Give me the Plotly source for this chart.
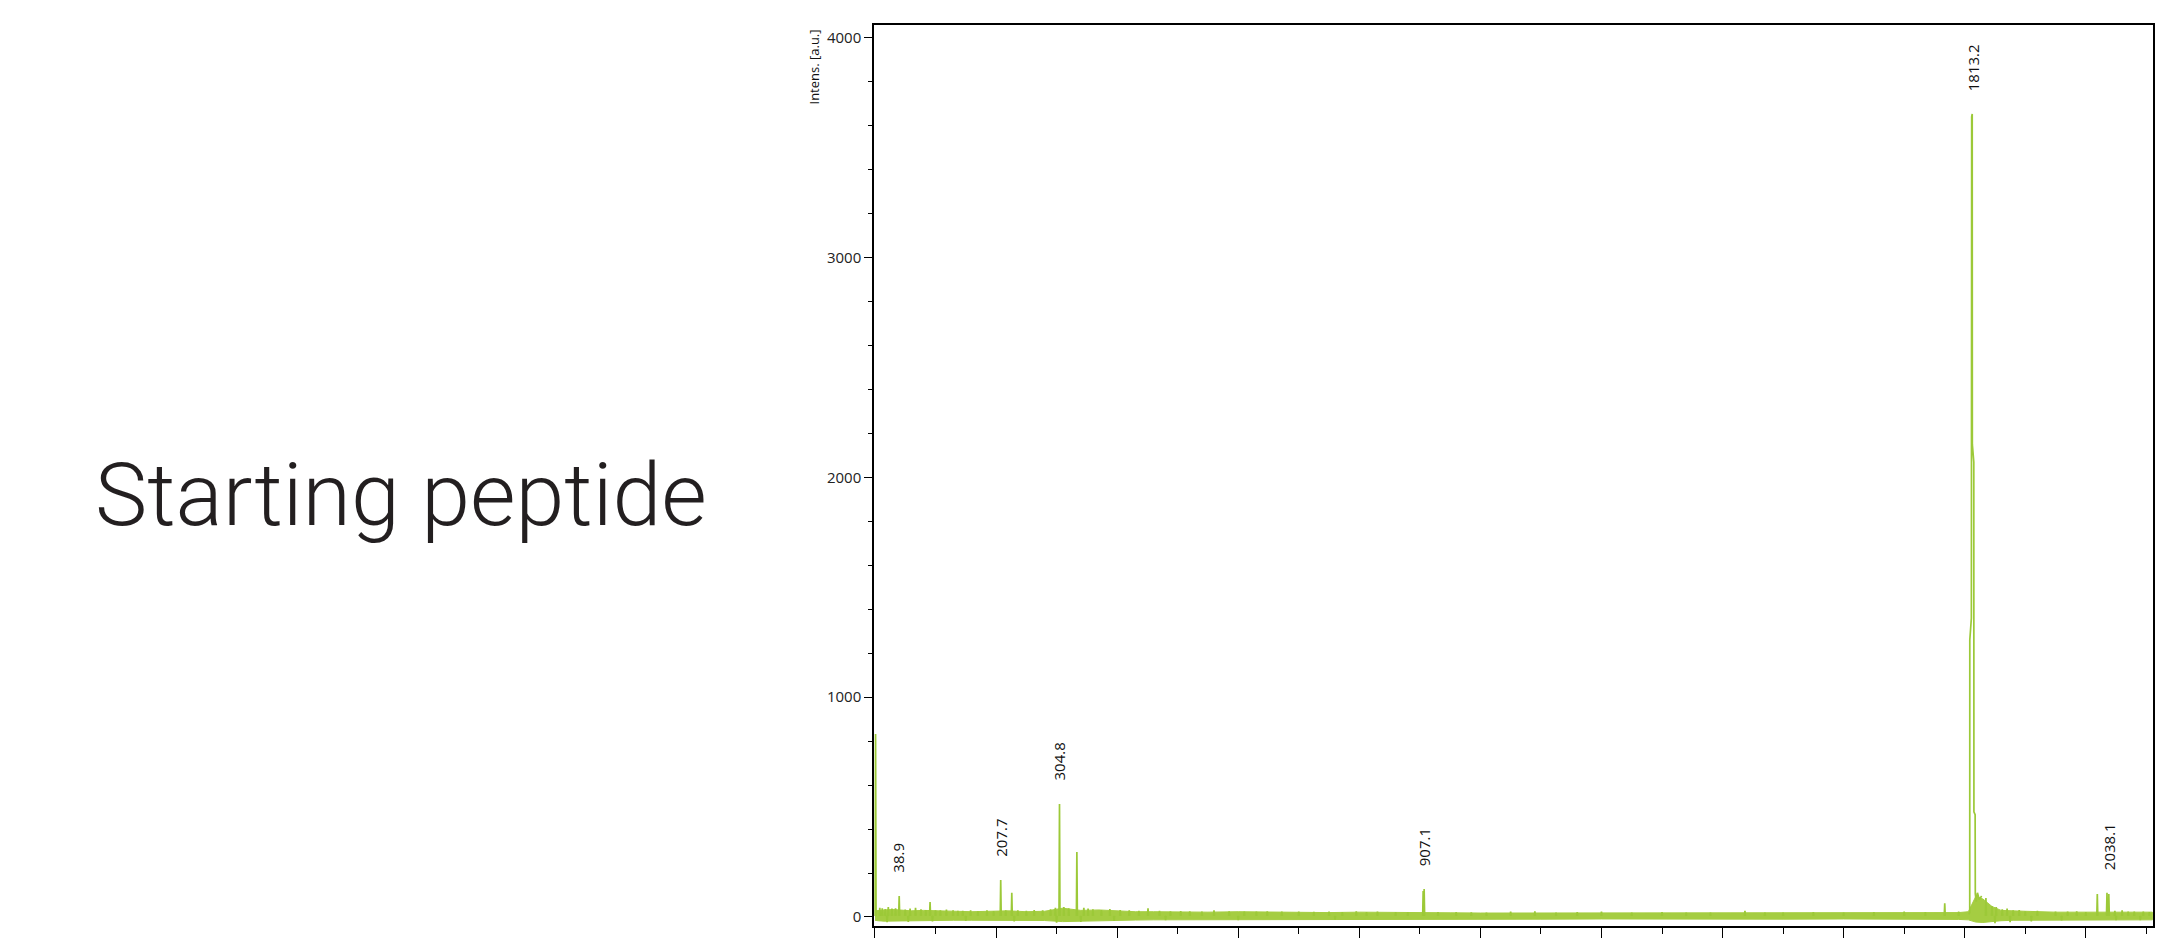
import plotly.graph_objects as go

# ---------------- data ----------------
# labelled peaks (label text, position m/z, apex intensity)
label_text = ["38.9", "207.7", "304.8", "907.1", "1813.2", "2038.1"]
label_mz = [38.9, 207.7, 304.8, 907.1, 1813.2, 2038.1]
label_int = [95, 168, 514, 127, 3653, 110]

# individual spikes of the spectrum (m/z, intensity)
spike_mz = [1, 8, 12, 17, 22, 28, 34, 40, 50, 58, 67, 76, 84, 91, 100, 108,
            118, 129, 137, 145, 158, 170, 185, 196, 207.7, 216, 226, 236, 250,
            263, 277, 290, 298, 304.8, 312, 320, 333.5, 345, 352, 360, 374,
            388, 405, 420, 436, 451, 470, 488, 505, 520, 540, 560, 585, 610,
            630, 648, 672, 700, 725, 750, 772, 795, 812, 830, 860, 880, 905.5,
            907.1, 930, 960, 985, 1010, 1050, 1090, 1125, 1160, 1200, 1250,
            1300, 1340, 1380, 1437, 1470, 1500, 1550, 1600, 1650, 1700, 1735,
            1767, 1790, 1835, 1845, 1852, 1862, 1870, 1880, 1890, 1900, 1920,
            1950, 1970, 1985, 2000, 2019, 2035, 2038, 2048, 2060, 2070, 2080,
            2095, 2105]
spike_int = [833, 42, 40, 36, 45, 38, 40, 95, 34, 38, 42, 35, 32, 68, 30, 30,
             34, 30, 28, 28, 30, 26, 30, 27, 168, 30, 110, 30, 28,
             32, 30, 35, 42, 514, 45, 40, 296, 42, 38, 35, 32,
             36, 32, 30, 28, 40, 28, 26, 27, 26, 25, 30, 26, 25,
             24, 26, 24, 24, 23, 25, 22, 26, 22, 24, 22, 21, 118,
             127, 22, 22, 21, 20, 24, 26, 20, 22, 24, 20,
             22, 20, 20, 28, 20, 20, 22, 20, 22, 24, 22,
             62, 24, 86, 50, 45, 35, 38, 30, 32, 26, 28,
             24, 25, 26, 22, 105, 110, 104, 28, 30, 24, 25,
             24, 22]

# downward noise excursions (m/z, intensity)
dip_mz = [20, 55, 95, 150, 230, 300, 340, 395, 480, 600, 760, 1850, 1875,
          1910, 1960, 2050, 2090]
dip_int = [-24, -22, -20, -18, -20, -26, -22, -18, -15, -14, -12, -28, -24,
           -20, -16, -15, -14]

# profile of the dominant peak (m/z, intensity)
main_mz = [1806.8, 1808.3, 1808.4, 1811.0, 1811.5, 1812.4, 1812.6, 1815.0,
           1815.2, 1817.2, 1817.5, 1819.0, 1821.0, 1824.0, 1828.0]
main_int = [12, 20, 1260, 1360, 3640, 3653, 2150, 2070,
            478, 465, 105, 70, 110, 80, 95]

# noise band envelope (m/z, upper, lower)
env_mz = [0, 5, 15, 30, 45, 60, 80, 100, 130, 160,
          190, 220, 250, 280, 310, 340, 370, 400, 430, 460,
          500, 550, 600, 650, 700, 750, 800, 850, 900, 950,
          1000, 1100, 1200, 1300, 1400, 1500, 1600, 1700, 1750, 1790,
          1806, 1818, 1830, 1845, 1860, 1880, 1900, 1950, 2000, 2050,
          2080, 2110]
env_hi = [28, 30, 32, 34, 32, 28, 30, 29, 26, 24,
          26, 28, 24, 26, 40, 30, 32, 28, 24, 24,
          22, 22, 24, 22, 20, 20, 22, 20, 20, 19,
          18, 18, 17, 18, 17, 18, 17, 17, 18, 20,
          24, 92, 82, 48, 30, 27, 26, 22, 22, 24,
          22, 22]
env_lo = [-15, -17, -19, -21, -19, -18, -17, -16, -15, -15,
          -16, -17, -15, -16, -21, -18, -17, -16, -14, -13,
          -13, -12, -13, -12, -11, -11, -12, -11, -11, -10,
          -10, -10, -9, -10, -9, -10, -9, -9, -10, -11,
          -13, -23, -25, -21, -17, -15, -14, -13, -13, -14,
          -13, -13]

# ---------------- styling ----------------
GREEN = "#9cc938"
BAND = "#a5cd42"
BASE = 5
HW = 0.8

fig = go.Figure()

# noise band
fig.add_trace(go.Scatter(
    x=env_mz + env_mz[::-1], y=env_hi + env_lo[::-1],
    fill="toself", fillcolor=BAND, mode="lines",
    line=dict(color=BAND, width=1.0), hoverinfo="skip"))

# spikes (upward and downward)
sx, sy = [], []
for m, v in zip(spike_mz + dip_mz, spike_int + dip_int):
    sx += [m - HW, m, m + HW, None]
    sy += [BASE, v, BASE, None]
fig.add_trace(go.Scatter(x=sx, y=sy, mode="lines",
                         line=dict(color=GREEN, width=1.7)))

# main peak
fig.add_trace(go.Scatter(x=main_mz, y=main_int, mode="lines",
                         line=dict(color=GREEN, width=1.7)))

# peak labels
for t, m, v in zip(label_text, label_mz, label_int):
    fig.add_annotation(x=m, y=v, text=t, showarrow=False, textangle=-90,
                       xanchor="center", yanchor="bottom", yshift=21,
                       font=dict(family="Open Sans", size=15, color="#111"))

# y-axis title
fig.add_annotation(xref="paper", yref="paper", x=-0.0469, y=0.9967,
                   text="Intens. [a.u.]", showarrow=False, textangle=-90,
                   xanchor="center", yanchor="top",
                   font=dict(family="Open Sans", size=13, color="#111"))

# big title text on the left
fig.add_annotation(xref="paper", yref="paper", x=-0.6106, y=0.479,
                   text="Starting peptide", showarrow=False,
                   xanchor="left", yanchor="middle",
                   font=dict(family="Roboto", size=88, color="#231f20",
                             weight=300))

axis_common = dict(showline=True, linecolor="black", linewidth=1.5,
                   mirror=True, ticks="outside", tickcolor="black",
                   tickwidth=1.3, showgrid=False, zeroline=False,
                   automargin=False,
                   tickfont=dict(family="Open Sans", size=15, color="#222"))

fig.update_layout(
    width=2164, height=940, autosize=False,
    margin=dict(l=874, r=11, t=25, b=14),
    paper_bgcolor="white", plot_bgcolor="white",
    showlegend=False, template="none",
    font=dict(family="Open Sans"),
    xaxis=dict(range=[-1.6, 2111], tick0=0, dtick=200, ticklen=10,
               minor=dict(dtick=100, ticks="outside", ticklen=6,
                          tickwidth=1.3, tickcolor="black", showgrid=False),
               **axis_common),
    yaxis=dict(range=[-41, 4058], tick0=0, dtick=1000, ticklen=8,
               minor=dict(dtick=200, ticks="outside", ticklen=4.5,
                          tickwidth=1.3, tickcolor="black", showgrid=False),
               **axis_common),
)

fig.write_html("out.html")
